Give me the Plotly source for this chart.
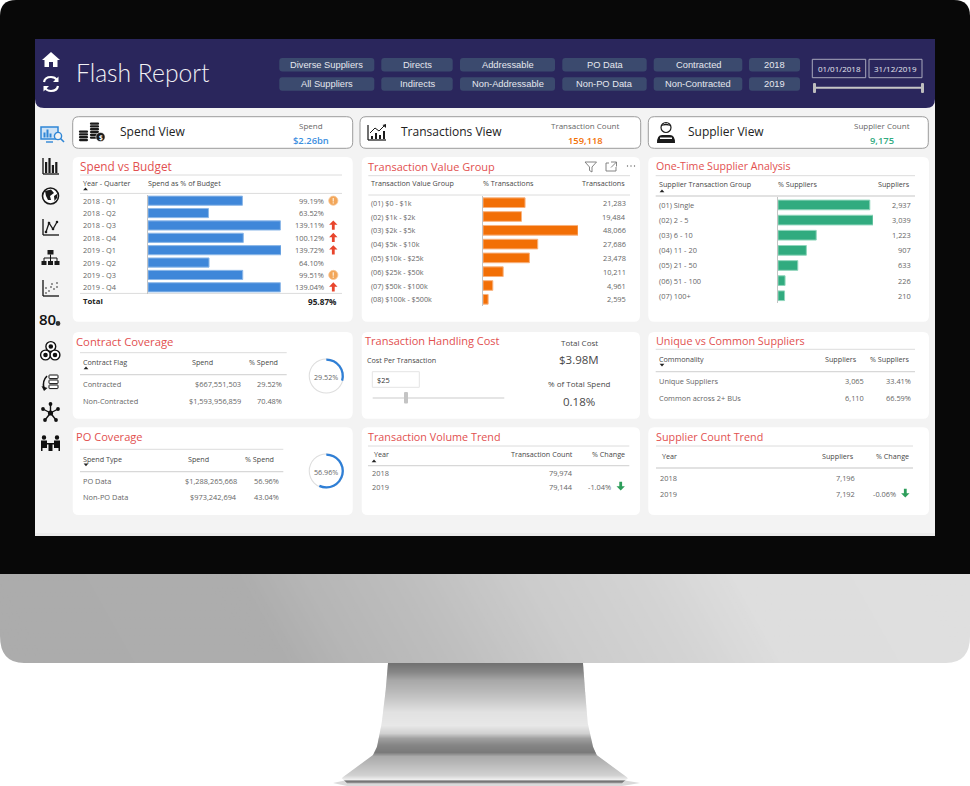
import numpy as np
import plotly.graph_objects as go

W, H = 970, 786

# --- data ---
filters_top = ["Diverse Suppliers", "Directs", "Addressable", "PO Data", "Contracted", "2018"]
filters_bottom = ["All Suppliers", "Indirects", "Non-Addressable", "Non-PO Data", "Non-Contracted", "2019"]
date_from, date_to = "01/01/2018", "31/12/2019"

quarters = ["2018 - Q1", "2018 - Q2", "2018 - Q3", "2018 - Q4", "2019 - Q1", "2019 - Q2", "2019 - Q3", "2019 - Q4"]
budget_pct = [99.19, 63.52, 139.11, 100.12, 139.72, 64.10, 99.51, 139.04]
budget_flag = ["warn", "", "up", "up", "up", "", "warn", "up"]
budget_total = "95.87%"

value_groups = ["(01) $0 - $1k", "(02) $1k - $2k", "(03) $2k - $5k", "(04) $5k - $10k", "(05) $10k - $25k",
                "(06) $25k - $50k", "(07) $50k - $100k", "(08) $100k - $500k"]
value_trans = [21283, 19484, 48066, 27686, 23478, 10211, 4961, 2595]

supplier_groups = ["(01) Single", "(02) 2 - 5", "(03) 6 - 10", "(04) 11 - 20", "(05) 21 - 50", "(06) 51 - 100", "(07) 100+"]
supplier_counts = [2937, 3039, 1223, 907, 633, 226, 210]

contract_rows = ["Contracted", "Non-Contracted"]
contract_spend = [667551503, 1593956859]
contract_pct = [29.52, 70.48]

po_rows = ["PO Data", "Non-PO Data"]
po_spend = [1288265668, 973242694]
po_pct = [56.96, 43.04]

unique_rows = ["Unique Suppliers", "Common across 2+ BUs"]
unique_counts = [3065, 6110]
unique_pct = [33.41, 66.59]

years = ["2018", "2019"]
trend_trans = [79974, 79144]
trend_trans_change = "-1.04%"
trend_supp = [7196, 7192]
trend_supp_change = "-0.06%"

FONT = "Open Sans"
RED = "#e2504f"
GREY = "#666666"
DARK = "#484848"
LINE = "#dcdcdc"
NAVY = "#2a265c"
BLUE = "#3f87d9"
ORANGE = "#f26f06"
GREEN = "#31ab7f"

shapes = []
notes = []


def txt(x, y, s, size=7.6, color=GREY, anchor="left", weight=None, font=FONT, yref="y"):
    if anchor == "left":
        x = x - 1  # glyphs sit a pixel to the right of the anchor
    notes.append(dict(x=x, y=y, text=s, xref="x", yref=yref, showarrow=False, xanchor=anchor, yanchor="middle",
                      borderpad=0, font=dict(family=font, size=size, color=color, weight=weight)))


def path(d, fill="rgba(0,0,0,0)", line=None, width=0):
    shapes.append(dict(type="path", path=d, xref="x", yref="y", layer="below", fillcolor=fill,
                       line=dict(color=line or "rgba(0,0,0,0)", width=width)))


def rect(x0, y0, x1, y1, fill, line=None, width=0):
    shapes.append(dict(type="rect", x0=x0, y0=y0, x1=x1, y1=y1, xref="x", yref="y", layer="below", fillcolor=fill,
                       line=dict(color=line or "rgba(0,0,0,0)", width=width)))


def circ(cx, cy, r, fill="rgba(0,0,0,0)", line=None, width=0):
    shapes.append(dict(type="circle", x0=cx - r, y0=cy - r, x1=cx + r, y1=cy + r, xref="x", yref="y", layer="below",
                       fillcolor=fill, line=dict(color=line or "rgba(0,0,0,0)", width=width)))


def hline(x0, x1, y, color=LINE, width=1):
    shapes.append(dict(type="line", x0=x0, x1=x1, y0=y, y1=y, xref="x", yref="y", layer="below",
                       line=dict(color=color, width=width)))


def seg(x0, y0, x1, y1, color="#111111", width=1.2):
    shapes.append(dict(type="line", x0=x0, x1=x1, y0=y0, y1=y1, xref="x", yref="y", layer="below",
                       line=dict(color=color, width=width)))


def rrect(x0, y0, x1, y1, r, fill, line=None, width=0, tl=True, tr=True, br=True, bl=True):
    a, b, c, d = (r if tl else 0), (r if tr else 0), (r if br else 0), (r if bl else 0)
    p = f"M{x0 + a},{y0} L{x1 - b},{y0} Q{x1},{y0} {x1},{y0 + b} L{x1},{y1 - c} Q{x1},{y1} {x1 - c},{y1} "
    p += f"L{x0 + d},{y1} Q{x0},{y1} {x0},{y1 - d} L{x0},{y0 + a} Q{x0},{y0} {x0 + a},{y0} Z"
    path(p, fill, line, width)


def arrow_up(x, y, color="#e8452c"):
    path(f"M{x},{y - 5} L{x + 4.2},{y - 0.6} L{x + 1.4},{y - 0.6} L{x + 1.4},{y + 4.2} L{x - 1.4},{y + 4.2} "
         f"L{x - 1.4},{y - 0.6} L{x - 4.2},{y - 0.6} Z", color)


def arrow_down(x, y, color="#2e9e5b"):
    path(f"M{x},{y + 4.6} L{x + 4.2},{y + 0.2} L{x + 1.4},{y + 0.2} L{x + 1.4},{y - 4.2} L{x - 1.4},{y - 4.2} "
         f"L{x - 1.4},{y + 0.2} L{x - 4.2},{y + 0.2} Z", color)


def warn(x, y):
    circ(x, y, 4.6, "#f2a65a", "#f7c795", 0.8)
    rect(x - 0.7, y - 2.8, x + 0.7, y + 0.8, "#fbe3c8")
    rect(x - 0.7, y + 1.5, x + 0.7, y + 2.9, "#fbe3c8")


def sort_tri(x, y, down=False):
    if down:
        path(f"M{x - 2.4},{y - 1.2} L{x + 2.4},{y - 1.2} L{x},{y + 1.4} Z", "#222222")
    else:
        path(f"M{x - 2.4},{y + 1.2} L{x + 2.4},{y + 1.2} L{x},{y - 1.4} Z", "#222222")


def money(v):
    return f"${v:,}"


# --- monitor ---
rrect(0, 0, 970, 574, 16, "#080808", br=False, bl=False)
steps = np.arange(-70, 970, 5)
shade = np.interp(steps, [-70, 240, 300, 400, 520, 640, 730, 970], [172, 174, 182, 190, 204, 212, 222, 224])
for sx, sv in zip(steps, shade):
    v = int(sv)
    path(f"M{sx},574 L{sx + 6},574 L{sx + 56},663 L{sx + 50},663 Z", f"rgb({v},{v},{v})")
for mx, sign in ((0, 1), (970, -1)):
    path(f"M{mx},636 Q{mx},663 {mx + sign * 24},663 L{mx},663 Z", "#ffffff")

# stand, built as thin slices so the brushed look stays horizontal
st_y = [663, 690, 723, 746.7, 755, 778, 783]
st_l = [388, 385.7, 381.7, 377, 373, 341.7, 347]
st_r = [583, 585, 587.7, 593, 596.7, 628, 622]
sh_y = [663, 672, 680, 690, 700, 712, 725, 733, 738, 745, 752, 756, 765, 775, 779, 781, 783]
sh_v = [114, 136, 168, 184, 202, 226, 232, 208, 160, 133, 122, 170, 189, 210, 238, 102, 170]
for sy in np.arange(663, 783, 1.0):
    l0, l1 = np.interp([sy, sy + 1.2], st_y, st_l)
    r0, r1 = np.interp([sy, sy + 1.2], st_y, st_r)
    v = int(np.interp(sy, sh_y, sh_v))
    path(f"M{l0},{sy} L{r0},{sy} L{r1},{sy + 1.2} L{l1},{sy + 1.2} Z", f"rgb({v},{v},{v})")
path("M333,783 L347,780 L622,780 L640,783 L622,786 L347,786 Z", "rgba(150,150,150,0.35)")

# --- screen ---
rect(35, 39, 935, 536, "#f3f3f3")
rect(35, 533, 935, 536, "#ececec")
rrect(35, 39, 935, 108, 9, NAVY, tl=False, tr=False)

# header icons
path("M51,52 L60,60 L57.5,60 L57.5,67 L53,67 L53,62 L49,62 L49,67 L44.5,67 L44.5,60 L42,60 Z", "#ffffff")
path("M44,82 Q45,77 51,77 Q55,77 57,80", line="#ffffff", width=2.2)
path("M58.5,76.5 L58.5,82 L53,82 Z", "#ffffff")
path("M58,86 Q57,91 51,91 Q47,91 45,88", line="#ffffff", width=2.2)
path("M43.5,91.5 L43.5,86 L49,86 Z", "#ffffff")
txt(76, 72.5, "Flash Report", 24.7, "#f1f1f4", weight=300, font="Lato")

# filter chips
chip_x = [(279.3, 374.3), (381.3, 452.7), (460, 555), (562.3, 646.7), (653.7, 742.3), (749, 800)]
for (x0, x1), top, bottom in zip(chip_x, filters_top, filters_bottom):
    for y0, label in ((58, top), (77.3, bottom)):
        rrect(x0, y0, x1, y0 + 13.4, 3, "#3b4a6e")
        txt((x0 + x1) / 2, y0 + 6.9, label, 9.3, "#e6e8ee", "center", font="Liberation Sans")

# date range
for x0, x1, label in ((812.3, 865.7, date_from), (869, 922, date_to)):
    rect(x0, 59.3, x1, 77.7, "rgba(0,0,0,0)", "#a8a8bc", 1)
    txt((x0 + x1) / 2, 68.7, label, 8, "#e6e6ee", "center")
hline(815, 922, 87.7, "#c6c6c6", 2)
rrect(813, 83, 816, 93, 1, "#bdbdbd")
rrect(921, 83, 924, 93, 1, "#bdbdbd")

# view cards
cards = [(72.7, 352.7, "Spend View", 120, "Spend", 311.3, "$2.26bn", "#3d8fe0"),
         (360, 640.7, "Transactions View", 401, "Transaction Count", 585, "159,118", ORANGE),
         (648.3, 928.3, "Supplier View", 688, "Supplier Count", 881.7, "9,175", GREEN)]
for x0, x1, name, nx, sub, sx, val, col in cards:
    rrect(x0, 116.7, x1, 148.3, 6, "#ffffff", "#9c9c9c", 1)
    txt(nx, 131.5, name, 12, "#222222")
    txt(sx, 125.8, sub, 8, "#666666", "center")
    txt(sx, 140.2, val, 9.4, col, "center", weight=600)

# coins icon
for cx, cy, n in ((83.5, 130.5, 4), (94.5, 122.5, 6)):
    for k in range(n):
        rrect(cx - 4.6, cy + 2.8 * k, cx + 4.6, cy + 2.8 * k + 2.3, 1.1, "#1a1a1a")
circ(100.5, 137, 4.6, "#1a1a1a", "#ffffff", 0.6)
txt(100.5, 137, "$", 6.5, "#ffffff", "center", weight=700)
# transactions icon
seg(368, 125, 368, 140, width=1.2)
seg(368, 140, 386, 140, width=1.2)
for bx, bh in ((371, 3), (375, 6), (379, 4), (383, 8)):
    rect(bx, 139 - bh, bx + 2, 139, "#1a1a1a")
path("M370,133 L375,128 L379,131 L385,125", line="#1a1a1a", width=1)
path("M386,124 L386,128 L382.5,125 Z", "#1a1a1a")
# person icon
circ(666, 127.5, 5, "#ffffff", "#1a1a1a", 1.2)
path("M661,126 Q666,121 671,126 Q666,124.5 661,126 Z", "#1a1a1a")
path("M657,143 Q657,135 662,135 L670,135 Q675,135 675,143 Z", "#1a1a1a")
rect(660, 137.5, 672, 139, "#ffffff")

# sidebar icons
path("M41,127 L58,127 L58,139 L41,139 Z", "#cfe3f6", "#2f86d6", 1.5)
for bx, bh in ((43.5, 5), (46.5, 8), (49.5, 4)):
    rect(bx, 137.5 - bh, bx + 2, 137.5, "#2f86d6")
seg(46, 142, 53, 142, "#2f86d6", 1.4)
circ(58, 136, 3.6, "#f3f3f3", "#2f86d6", 1.4)
seg(60.5, 138.5, 64, 142, "#2f86d6", 1.6)
seg(43, 158, 43, 174, width=1.3)
seg(43, 174, 59, 174, width=1.3)
for bx, bh in ((45, 11), (48.4, 15), (51.8, 8), (55.2, 11)):
    rect(bx, 173 - bh, bx + 2.2, 173, "#1a1a1a")
circ(50.5, 196, 8, "#ffffff", "#1a1a1a", 1.6)
path("M45,191 L51,189.5 L54,193 L50,196 L51,200 L48,200 L46,196 Z", "#1a1a1a")
path("M54,196 L57,194 L57,198 L54.5,201 Z", "#1a1a1a")
seg(43, 219, 43, 235, width=1.3)
seg(43, 235, 59, 235, width=1.3)
path("M46,232 L49,223 L53,229 L57,222", line="#1a1a1a", width=1.3)
for dx, dy in ((46, 232), (49, 223), (53, 229), (57, 222)):
    circ(dx, dy, 1.3, "#1a1a1a")
rect(47.5, 250, 53.5, 254.5, "#1a1a1a")
seg(50.5, 254.5, 50.5, 258, width=1)
seg(44, 258, 57, 258, width=1)
for rx in (41.5, 48, 54.5):
    seg(rx + 2.5, 258, rx + 2.5, 261, width=1)
    rect(rx, 261, rx + 5, 265, "#1a1a1a")
seg(43, 280, 43, 296, width=1.3)
seg(43, 296, 59, 296, width=1.3)
for dx, dy in ((46, 293), (49, 291), (46, 288), (51, 287), (54, 289), (52, 284), (57, 283), (57, 287)):
    circ(dx, dy, 0.8, "#1a1a1a")
txt(47.5, 319, "80", 15, "#111111", "center", weight=600)
circ(58, 323.5, 2.4, "#333333")
for cx, cy in ((50.8, 346.5), (45.5, 355), (55, 355)):
    circ(cx, cy, 4.9, "#ffffff", "#111111", 1.4)
    circ(cx, cy, 2.3, "#111111")
for ry in (375, 380, 385):
    rrect(49, ry, 58, ry + 3.6, 0.6, "#ffffff", "#111111", 1)
path("M47,376 Q42,381 44,388", line="#111111", width=1.6)
path("M41.5,386 L47.5,388 L44,391 Z", "#111111")
for ex, ey in ((50.5, 404), (43, 409), (58, 409), (45, 420), (56, 420)):
    seg(50.5, 413, ex, ey, width=1.4)
    circ(ex, ey, 1.9, "#111111")
circ(50.5, 413, 2.6, "#111111")
for cx in (44, 57):
    circ(cx, 437.5, 2.2, "#111111")
    rect(cx - 3, 440.5, cx + 3, 448, "#111111")
rect(41, 443, 60, 444.5, "#111111")
rect(48.5, 444, 52.5, 451, "#111111")
rect(41, 446, 42.5, 451, "#111111")
rect(58.5, 446, 60, 451, "#111111")

# panels
panels = [(72.7, 157, 352.7, 321.7), (361.7, 157, 640, 321.7), (648.3, 157, 929, 321.7),
          (72.7, 332, 352.7, 418.7), (361.7, 332, 640, 418.7), (648.3, 332, 929, 418.7),
          (72.7, 427.3, 352.7, 515), (361.7, 427.3, 640, 515), (648.3, 427.3, 929, 515)]
for x0, y0, x1, y1 in panels:
    rrect(x0, y0, x1, y1, 6, "#ffffff")

TITLE = 10.8
txt(79.5, 166, "Spend vs Budget", 11.8, RED)
txt(367.5, 166, "Transaction Value Group", 11, RED)
txt(655.5, 166, "One-Time Supplier Analysis", 10.6, RED)
txt(75.5, 341, "Contract Coverage", 11.3, RED)
txt(364.5, 340, "Transaction Handling Cost", 11, RED)
txt(655.5, 340, "Unique vs Common Suppliers", 10.8, RED)
txt(75.5, 436.7, "PO Coverage", 11.1, RED)
txt(367.5, 436.7, "Transaction Volume Trend", TITLE, RED)
txt(655.5, 436.7, "Supplier Count Trend", TITLE, RED)

# Spend vs Budget table
hline(80, 342, 175)
hline(80, 342, 193.4)
hline(80, 342, 293.4)
txt(83, 182.7, "Year - Quarter", 7.2, DARK)
txt(147.7, 182.7, "Spend as % of Budget", 7.2, DARK)
sort_tri(85.5, 189)
for q, p in zip(quarters, budget_pct):
    txt(83, q, q, 7.4, GREY, yref="y2")
    txt(325, q, f"{p:.2f}%", 7.4, GREY, "right", yref="y2")
txt(83, 301.4, "Total", 7.8, "#222222", weight=700)
txt(337.7, 301.4, budget_total, 8.2, "#222222", "right", weight=700)
# flags next to the % of budget values
row_h = (293.5 - 194.5) / len(quarters)
for i, f in enumerate(budget_flag):
    ry = 194.5 + row_h * (i + 0.5)
    if f == "warn":
        warn(333.3, ry)
    elif f == "up":
        arrow_up(333.3, ry)

# Transaction Value Group table
hline(368.3, 630, 175.7)
hline(368.3, 630, 195)
txt(371, 183.3, "Transaction Value Group", 7.2, DARK)
txt(482.7, 183.3, "% Transactions", 7.2, DARK)
txt(625.7, 183.3, "Transactions", 7.2, DARK, "right")
for g, v in zip(value_groups, value_trans):
    txt(371, g, g, 7.2, GREY, yref="y3")
    txt(626.7, g, f"{v:,}", 7.4, GREY, "right", yref="y3")
path("M585,162 L596.5,162 L592,167 L592,172 L589.5,170.5 L589.5,167 Z", line="#777777", width=0.9)
path("M606,163 L606,171 L616,171 L616,167 M611,162 L616.5,162 L616.5,166.5 M616.5,162 L611,167.5 M606,163 L609,163",
     line="#777777", width=0.9)
for dx in (627.5, 631, 634.5):
    circ(dx, 166, 0.7, "#666666")

# One-Time Supplier table
hline(655.7, 915, 175.7)
hline(655.7, 915, 196, "#d8d8d8", 1.4)
txt(659.3, 184.3, "Supplier Transaction Group", 7.2, DARK)
txt(777.7, 184.3, "% Suppliers", 7.2, DARK)
txt(911, 184.3, "Suppliers", 7.2, DARK, "right")
sort_tri(662, 191)
for g, v in zip(supplier_groups, supplier_counts):
    txt(659.3, g, g, 7.4, GREY, yref="y4")
    txt(911.7, g, f"{v:,}", 7.4, GREY, "right", yref="y4")


def table(x0, x1, top, bottom, head_y, cols, tri_x, tri_y, tri_down=None):
    hline(x0, x1, top)
    hline(x0, x1, bottom, "#d8d8d8", 1.3)
    for cx, label, anchor in cols:
        txt(cx, head_y, label, 7.2, DARK, anchor)
    if tri_down is not None:
        sort_tri(tri_x, tri_y, tri_down)


# Contract Coverage
table(80, 286.7, 352.7, 374.7, 362.3,
      [(83, "Contract Flag", "left"), (191.7, "Spend", "left"), (249, "% Spend", "left")], 86, 368, False)
for row, y, s, p in zip(contract_rows, (384.3, 401), contract_spend, contract_pct):
    txt(83, y, row, 7.4)
    txt(241.7, y, money(s), 7.4, GREY, "right")
    txt(283.3, y, f"{p:.2f}%", 7.4, GREY, "right")
txt(326.3, 376.5, f"{contract_pct[0]:.2f}%", 7.2, GREY, "center")

# PO Coverage
table(80, 283.3, 449.3, 471.7, 459,
      [(83, "Spend Type", "left"), (188, "Spend", "left"), (245.3, "% Spend", "left")], 86, 464.8, True)
for row, y, s, p in zip(po_rows, (481, 497.3), po_spend, po_pct):
    txt(83, y, row, 7.4)
    txt(238, y, money(s), 7.4, GREY, "right")
    txt(279.7, y, f"{p:.2f}%", 7.4, GREY, "right")
txt(326.3, 471.5, f"{po_pct[0]:.2f}%", 7.2, GREY, "center")

# Transaction Handling Cost
txt(367, 360.3, "Cost Per Transaction", 7.2, DARK)
rect(372.3, 371.7, 419.3, 387.3, "#ffffff", "#e4e4e4", 1)
txt(377, 380, "$25", 7.4, "#333333")
hline(372.7, 504.3, 398, "#dddddd", 1.4)
rrect(404, 392, 408, 403.5, 1, "#c4c4c4")
txt(579, 342, "Total Cost", 8, DARK, "center")
txt(579, 359.7, "$3.98M", 11.5, DARK, "center")
txt(579, 383.7, "% of Total Spend", 8, DARK, "center")
txt(579, 401, "0.18%", 11.5, DARK, "center")

# Unique vs Common
table(655.7, 915, 349.3, 371.7, 359.3,
      [(659, "Commonality", "left"), (858.3, "Suppliers", "right"), (911, "% Suppliers", "right")], 662, 365, True)
for row, y, c, p in zip(unique_rows, (381, 397.7), unique_counts, unique_pct):
    txt(659, y, row, 7.4)
    txt(865, y, f"{c:,}", 7.4, GREY, "right")
    txt(911.7, y, f"{p:.2f}%", 7.4, GREY, "right")

# Transaction Volume Trend
table(368, 629.3, 446, 465.7, 454,
      [(374.3, "Year", "left"), (573.7, "Transaction Count", "right"), (626, "% Change", "right")], 374, 461, False)
for yr, y, v in zip(years, (473.3, 487), trend_trans):
    txt(372, y, yr, 7.4)
    txt(573.7, y, f"{v:,}", 7.4, GREY, "right")
txt(612.3, 487, trend_trans_change, 7.4, GREY, "right")
arrow_down(620.7, 486)

# Supplier Count Trend
table(656, 913, 446, 468, 455.7,
      [(662.3, "Year", "left"), (855, "Suppliers", "right"), (910.3, "% Change", "right")], 0, 0)
for yr, y, v in zip(years, (477.7, 494), trend_supp):
    txt(660, y, yr, 7.4)
    txt(855.7, y, f"{v:,}", 7.4, GREY, "right")
txt(896.7, 494, trend_supp_change, 7.4, GREY, "right")
arrow_down(905.3, 493)


def dom_x(x0, x1):
    return [x0 / W, x1 / W]


def dom_y(y0, y1):
    return [1 - y1 / H, 1 - y0 / H]


fig = go.Figure()
# first subplot only carries the pixel frame for the chrome
fig.add_trace(go.Scatter(x=[0, W], y=[0, H], mode="markers", marker=dict(opacity=0), hoverinfo="skip", showlegend=False))


def bars(cats, vals, color, edge, gap, axis_no):
    fig.add_trace(go.Bar(x=vals, y=cats, orientation="h", xaxis=f"x{axis_no}", yaxis=f"y{axis_no}",
                         marker=dict(color=color, line=dict(color=edge, width=1)), width=1 - gap, showlegend=False))


bars(quarters, budget_pct, BLUE, "#8db8e8", 0.26, 2)
bars(value_groups, value_trans, ORANGE, "#f8b27e", 0.3, 3)
bars(supplier_groups, supplier_counts, GREEN, "#8fd5bb", 0.36, 4)


def gauge(pct, cx, cy, r):
    dx = dom_x(cx - r, cx + r)
    dy = dom_y(cy - r, cy + r)
    fig.add_trace(go.Pie(values=[1], hole=0.94, sort=False, marker=dict(colors=["#dedede"]), domain=dict(x=dx, y=dy),
                         textinfo="none", hoverinfo="skip", showlegend=False))
    fig.add_trace(go.Pie(values=[pct, 100 - pct], hole=0.87, sort=False, direction="clockwise", rotation=0,
                         marker=dict(colors=["#2f7fd6", "rgba(0,0,0,0)"]), domain=dict(x=dx, y=dy),
                         textinfo="none", showlegend=False))


gauge(contract_pct[0], 326.3, 376, 17.6)
gauge(po_pct[0], 326.3, 471, 17.6)


def bar_axes(cats, x_max, x0, x1, y0, y1, no):
    n = len(cats)
    xa = dict(domain=dom_x(x0, x1), range=[0, x_max], visible=False, fixedrange=True, anchor=f"y{no}")
    ya = dict(domain=dom_y(y0, y1), type="category", categoryorder="array", categoryarray=cats, range=[n - 0.5, -0.5],
              showline=True, linecolor="#c4c4c4", linewidth=1, showgrid=False, zeroline=False, ticks="",
              showticklabels=False, fixedrange=True, anchor=f"x{no}")
    return xa, ya


x2, y2 = bar_axes(quarters, max(budget_pct), 148, 281, 194.5, 293.5, 2)
x3, y3 = bar_axes(value_groups, max(value_trans), 483, 578, 195.8, 306.2, 3)
x4, y4 = bar_axes(supplier_groups, max(supplier_counts), 778, 873, 197.4, 303.3, 4)

fig.update_layout(
    width=W, height=H, margin=dict(l=0, r=0, t=0, b=0, pad=0),
    paper_bgcolor="#ffffff", plot_bgcolor="rgba(0,0,0,0)",
    xaxis=dict(domain=[0, 1], range=[0, W], visible=False, fixedrange=True),
    yaxis=dict(domain=[0, 1], range=[H, 0], visible=False, fixedrange=True),
    xaxis2=x2, yaxis2=y2, xaxis3=x3, yaxis3=y3, xaxis4=x4, yaxis4=y4,
    shapes=shapes, annotations=notes, showlegend=False, font=dict(family=FONT),
)

fig.write_html("out.html", config=dict(displayModeBar=False),
               post_script="document.body.style.margin='0';document.body.style.overflow='hidden';")
